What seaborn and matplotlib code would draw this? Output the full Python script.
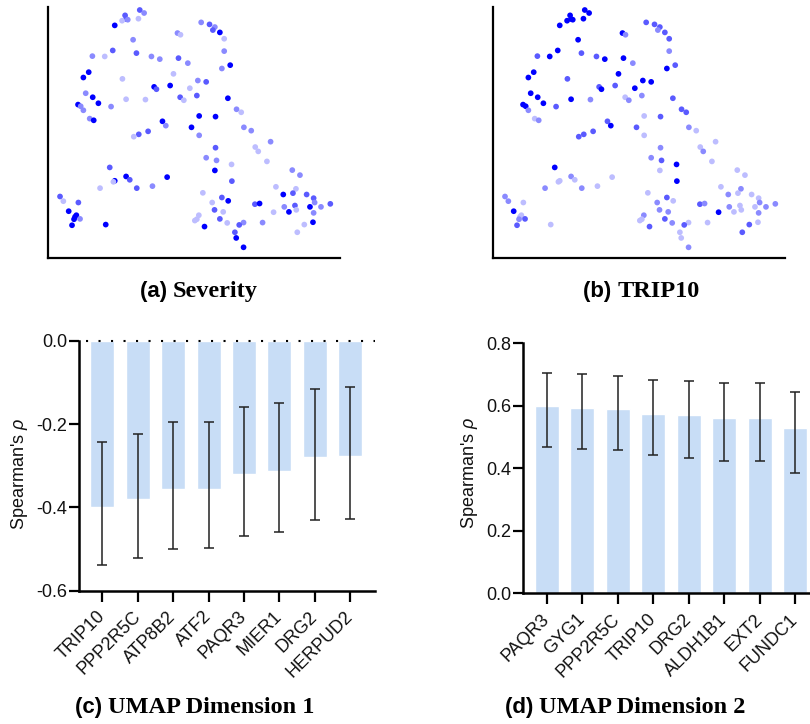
import numpy as np
import pandas as pd
import matplotlib
matplotlib.use("Agg")
import matplotlib.pyplot as plt
import seaborn as sns

# ---------------- data ----------------
# UMAP embedding (shared by panels a and b)
umap1 = [3.00, 3.13, 2.56, 2.59, 2.47, 2.64, 2.96, 2.25, 4.84, 5.09, 5.25, 5.19, 5.40, 4.13, 4.22, 5.53,
         2.80, 5.53, 2.19, 2.90, 1.58, 1.95, 3.35, 3.60, 4.16, 4.44, 5.71, 5.46, 1.47, 1.31, 4.01, 2.48,
         4.74, 4.99, 3.43, 3.50, 3.91, 4.50, 1.38, 1.59, 4.21, 4.32, 4.71, 2.59, 3.17, 5.64, 1.76, 1.15,
         1.23, 2.14, 1.31, 5.90, 6.04, 4.78, 5.27, 1.50, 1.62, 3.68, 3.78, 4.55, 6.12, 6.34, 3.25, 2.97,
         2.82, 4.78, 6.92, 5.27, 6.46, 6.55, 4.99, 5.30, 6.81, 5.75, 2.10, 5.25, 7.57, 7.80, 2.59, 2.70,
         2.25, 2.21, 3.82, 5.76, 1.81, 2.91, 3.38, 7.08, 7.68, 7.59, 7.30, 8.00, 4.89, 0.61, 0.71, 1.16,
         5.46, 5.65, 8.21, 8.24, 5.17, 6.45, 6.59, 8.71, 7.33, 7.65, 8.10, 8.43, 7.69, 5.24, 5.50, 7.47,
         7.01, 8.21, 0.87, 1.10, 1.06, 1.03, 1.21, 4.77, 4.71, 4.65, 5.40, 5.62, 6.68, 6.11, 5.98, 8.19,
         7.93, 0.97, 1.98, 4.94, 5.85, 7.72, 5.89, 6.11]
umap2 = [7.69, 7.60, 7.53, 7.42, 7.37, 7.40, 7.43, 7.23, 7.32, 7.26, 7.18, 7.09, 7.02, 7.00, 6.95, 6.83,
         6.80, 6.46, 6.48, 6.40, 6.31, 6.30, 6.30, 6.22, 6.25, 6.10, 6.04, 5.94, 5.83, 5.67, 5.78, 5.63,
         5.58, 5.54, 5.39, 5.32, 5.43, 5.35, 5.20, 5.08, 5.08, 4.99, 5.13, 5.02, 5.01, 5.05, 4.90, 4.86,
         4.81, 4.80, 4.69, 4.72, 4.63, 4.52, 4.50, 4.44, 4.39, 4.36, 4.23, 4.18, 4.18, 4.08, 4.06, 3.97,
         3.90, 3.94, 3.75, 3.57, 3.59, 3.46, 3.27, 3.19, 3.16, 3.07, 2.98, 2.89, 2.90, 2.75, 2.71, 2.61,
         2.58, 2.55, 2.69, 2.57, 2.36, 2.36, 2.42, 2.40, 2.34, 2.21, 2.17, 2.17, 2.22, 2.11, 1.97, 1.93,
         2.08, 1.98, 2.06, 1.93, 1.93, 1.88, 1.90, 1.89, 1.80, 1.84, 1.80, 1.80, 1.71, 1.71, 1.65, 1.65,
         1.64, 1.62, 1.67, 1.55, 1.50, 1.43, 1.44, 1.55, 1.43, 1.39, 1.44, 1.32, 1.33, 1.33, 1.26, 1.34,
         1.27, 1.25, 1.27, 1.21, 1.04, 1.04, 0.87, 0.59]
# colour level per cell (1 = lightest ... 4 = darkest)
severity = [3, 2, 3, 3, 1, 2, 1, 4, 2, 3, 2, 3, 4, 2, 1, 1, 2, 2, 3, 3, 2, 1, 2, 2, 3, 2, 4, 2, 4, 4, 1, 1,
            2, 3, 4, 3, 4, 1, 2, 4, 3, 1, 3, 1, 1, 4, 4, 4, 2, 2, 2, 2, 1, 4, 4, 2, 4, 4, 2, 4, 2, 2, 3, 3,
            1, 2, 2, 3, 1, 1, 2, 2, 1, 1, 3, 4, 2, 2, 4, 3, 4, 1, 4, 3, 1, 3, 2, 1, 1, 3, 4, 3, 1, 3, 1, 3,
            3, 4, 3, 2, 1, 3, 4, 3, 2, 3, 4, 2, 1, 3, 1, 4, 1, 2, 4, 4, 4, 4, 2, 1, 1, 1, 3, 1, 2, 2, 3, 4,
            1, 4, 4, 4, 3, 1, 4, 4]
trip10 = [4, 4, 4, 4, 4, 4, 4, 4, 3, 3, 3, 2, 3, 4, 2, 3, 4, 2, 4, 3, 3, 4, 3, 4, 4, 2, 3, 4, 4, 4, 4, 3,
          4, 4, 3, 4, 3, 4, 4, 4, 1, 2, 2, 4, 2, 3, 4, 4, 4, 3, 2, 3, 3, 1, 3, 1, 2, 3, 4, 3, 2, 1, 3, 3,
          3, 1, 1, 2, 1, 2, 2, 3, 1, 4, 4, 1, 1, 1, 2, 1, 1, 1, 1, 4, 2, 2, 1, 1, 2, 1, 2, 1, 1, 2, 2, 1,
          3, 1, 1, 2, 2, 3, 2, 2, 2, 1, 1, 2, 1, 2, 2, 1, 4, 2, 4, 1, 1, 2, 3, 2, 1, 1, 3, 2, 1, 1, 3, 1,
          3, 3, 1, 3, 1, 3, 1, 2]

# UMAP dimension 1 correlations
genes1 = ["TRIP10", "PPP2R5C", "ATP8B2", "ATF2", "PAQR3", "MIER1", "DRG2", "HERPUD2"]
rho1 = [-0.400, -0.381, -0.355, -0.355, -0.321, -0.312, -0.280, -0.277]
ci1_low = [-0.538, -0.521, -0.499, -0.498, -0.469, -0.460, -0.431, -0.428]
ci1_high = [-0.244, -0.223, -0.194, -0.194, -0.158, -0.149, -0.115, -0.112]

# UMAP dimension 2 correlations
genes2 = ["PAQR3", "GYG1", "PPP2R5C", "TRIP10", "DRG2", "ALDH1B1", "EXT2", "FUNDC1"]
rho2 = [0.598, 0.593, 0.591, 0.575, 0.570, 0.562, 0.560, 0.528]
ci2_low = [0.468, 0.463, 0.459, 0.441, 0.434, 0.424, 0.422, 0.385]
ci2_high = [0.704, 0.701, 0.696, 0.684, 0.679, 0.674, 0.672, 0.645]

# ---------------- style ----------------
sns.set_theme(style="white")
plt.rcParams["font.family"] = ["Liberation Sans", "DejaVu Sans"]
plt.rcParams["mathtext.fontset"] = "custom"
plt.rcParams["mathtext.it"] = "Liberation Sans:italic"
plt.rcParams["mathtext.rm"] = "Liberation Sans"

level_pal = {1: "#bdbdff", 2: "#8a8aff", 3: "#5a5aff", 4: "#0000ff"}
bar_color = "#c8ddf6"
TXT = 13

W, H = 810, 724
fig = plt.figure(figsize=(W / 100, H / 100), dpi=100)


def px_axes(left, top, right, bottom):
    return fig.add_axes([left / W, 1 - bottom / H, (right - left) / W, (bottom - top) / H])


emb = pd.DataFrame({"u1": umap1, "u2": umap2, "sev": severity, "trip": trip10})

for (l, r), col in [((48, 340), "sev"), ((493, 785), "trip")]:
    ax = px_axes(l, 7, r, 258)
    sns.scatterplot(data=emb, x="u1", y="u2", hue=col, palette=level_pal, s=17,
                    linewidth=0, legend=False, ax=ax)
    ax.set_xlim(0.25, 9.0)
    ax.set_ylim(0.27, 7.78)
    ax.set_xticks([])
    ax.set_yticks([])
    ax.set_xlabel("")
    ax.set_ylabel("")
    for s in ["top", "right"]:
        ax.spines[s].set_visible(False)
    for s in ["left", "bottom"]:
        ax.spines[s].set_color("black")
        ax.spines[s].set_linewidth(1.6)


def bar_panel(ax, genes, rho, lo, hi, ylim, yticks, label_xy):
    df = pd.DataFrame({"gene": genes, "rho": rho})
    sns.barplot(data=df, x="gene", y="rho", color=bar_color, width=0.68,
                saturation=1, errorbar=None, ax=ax)
    xs = ax.get_xticks()
    yerr = [np.array(rho) - np.array(lo), np.array(hi) - np.array(rho)]
    ax.errorbar(xs, rho, yerr=yerr, fmt="none", ecolor="#222222", elinewidth=1.1,
                capsize=3.9, capthick=1.1)
    ax.set_xlim(-0.66, 7.70)
    ax.set_ylim(*ylim)
    ax.set_yticks(yticks)
    ax.set_yticklabels([f"{v:.1f}" for v in yticks])
    ax.set_xlabel("")
    ax.set_ylabel("Spearman's $\\rho$", fontsize=TXT, color="#111111")
    ax.yaxis.set_label_coords(*label_xy)
    ax.tick_params(axis="y", length=7.5, width=1.6, labelsize=TXT, color="black", pad=1,
                   left=True, labelcolor="#111111")
    ax.tick_params(axis="x", length=8, width=1.6, color="black", bottom=True)
    ax.set_xticks(xs)
    ax.set_xticklabels(genes, rotation=45, ha="right", va="center",
                       rotation_mode="anchor", fontsize=TXT, color="#111111")
    for lab in ax.get_xticklabels():
        lab.set_y(-0.03)
    for s in ["top", "right"]:
        ax.spines[s].set_visible(False)
    for s in ["left", "bottom"]:
        ax.spines[s].set_color("black")
        ax.spines[s].set_linewidth(1.8)
    ax.grid(False)


axc = px_axes(79, 340.7, 375, 590.7)
bar_panel(axc, genes1, rho1, ci1_low, ci1_high, (-0.6, 0.0), [0.0, -0.2, -0.4, -0.6],
          (-0.166, 0.467))
axc.axhline(0, color="black", linestyle=(0, (1, 5)), linewidth=1.5, xmin=0.025, clip_on=False)

axd = px_axes(523.3, 343.3, 820, 593.3)
bar_panel(axd, genes2, rho2, ci2_low, ci2_high, (0.0, 0.8), [0.0, 0.2, 0.4, 0.6, 0.8],
          (-0.146, 0.48))

# ---------------- captions ----------------
captions = [(199, 297, "(a)", "Severity"), (641, 297, "(b)", "TRIP10"),
            (195, 713, "(c)", "UMAP Dimension 1"), (625, 713, "(d)", "UMAP Dimension 2")]
texts = []
for xc, yb, tag, txt in captions:
    t1 = fig.text(0, 1 - yb / H, tag + " ", family="Liberation Sans", weight="bold",
                  fontsize=16, va="baseline", ha="left", color="black")
    t2 = fig.text(0, 1 - yb / H, txt, family="Liberation Serif", weight="bold",
                  fontsize=17.5, va="baseline", ha="left", color="black")
    texts.append((xc, t1, t2))

fig.canvas.draw()
r = fig.canvas.get_renderer()
for xc, t1, t2 in texts:
    w1 = t1.get_window_extent(r).width
    w2 = t2.get_window_extent(r).width
    x0 = xc - (w1 + w2) / 2
    t1.set_x(x0 / W)
    t2.set_x((x0 + w1) / W)

fig.savefig("out.png", dpi=100)
